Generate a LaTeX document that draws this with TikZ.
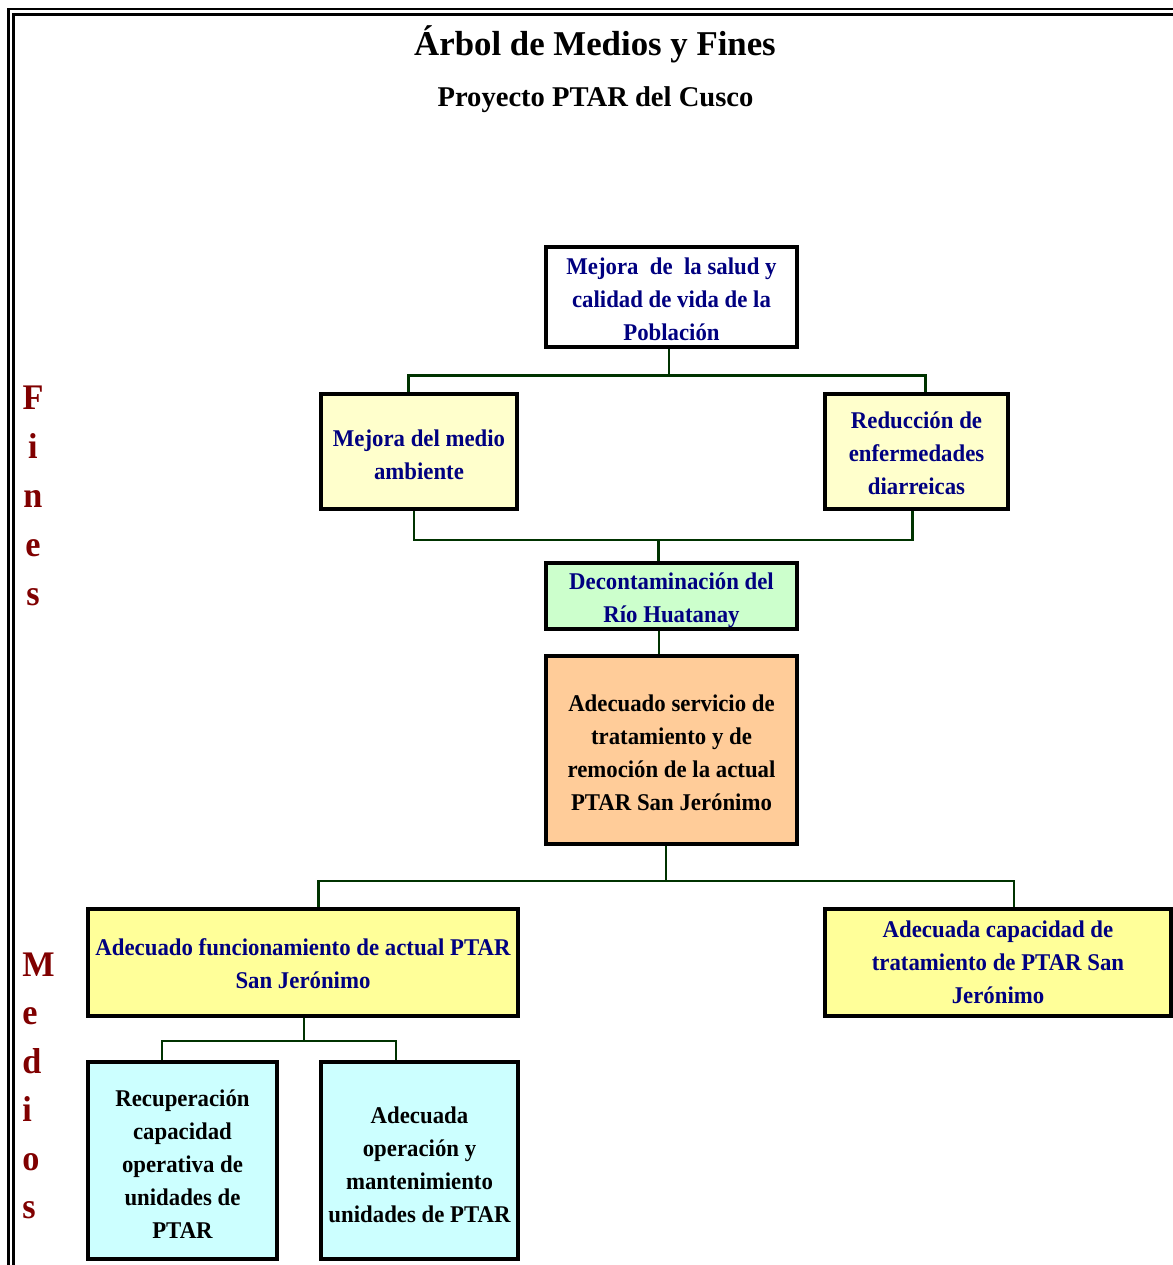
\documentclass[tikz,border=0pt]{standalone}
\usepackage{fontspec}
\setmainfont{Liberation Serif}[FakeStretch=0.95]
\newfontfamily\plainfont{Liberation Serif}
\usetikzlibrary{calc}

\definecolor{navytext}{HTML}{000080}
\definecolor{wine}{HTML}{800000}
\definecolor{linkgreen}{HTML}{003300}
\definecolor{paleyellow}{HTML}{FFFFCC}
\definecolor{softyellow}{HTML}{FFFF99}
\definecolor{palegreen}{HTML}{CCFFCC}
\definecolor{tan}{HTML}{FFCC99}
\definecolor{palecyan}{HTML}{CCFFFF}

% invisible strut on a first line, to set the text's vertical place in its box
\newcommand\firstrule[1]{\rule{0pt}{#1}}

\tikzset{
  box/.style={draw=black, line width=2pt, inner sep=0pt, align=center,
    font=\fontsize{12}{16.5}\selectfont\bfseries, text=navytext},
  darkbox/.style={box, text=black},
  link/.style={draw=linkgreen, line width=1.4pt},
  frameline/.style={draw=black, line width=1.3pt},
  sideletter/.style={inner sep=0pt, text=wine,
    font=\fontsize{18}{20}\selectfont\bfseries}
}

\begin{document}
\begin{tikzpicture}[x=0.5pt, y=-0.5pt]
\useasboundingbox (0,0) rectangle (1173,1265);

% double page frame
\draw[frameline] (8.7,1265) -- (8.7,9) -- (1173,9);
\draw[frameline] (13.3,1265) -- (13.3,14.7) -- (1173,14.7);

% headings
\node[anchor=base, inner sep=0pt, font=\plainfont\fontsize{17.4}{20}\selectfont\bfseries]
  (title) at (595,55) {Árbol de Medios y Fines};
\node[anchor=base, inner sep=0pt, font=\plainfont\fontsize{14.3}{17}\selectfont\bfseries]
  (subtitle) at (595.5,106) {Proyecto PTAR del Cusco};

% side labels
\foreach \l [count=\k] in {F,i,n,e,s}
  \node[sideletter, anchor=base] (fines-\k) at (33,{409+49*(\k-1)}) {\l};
\foreach \l [count=\k] in {M,e,d,i,o,s}
  \node[sideletter, anchor=base west] (medios-\k) at (22,{976+48.5*(\k-1)}) {\l};

% ends (fines)
\node[box, fill=white, minimum width=125.5pt, minimum height=50pt]
  (salud) at (671.5,297) {\firstrule{10.2pt}Mejora~ de~ la salud y\\calidad de vida de la\\Población};
\node[box, fill=paleyellow, minimum width=98pt, minimum height=57.5pt]
  (medio) at (419,451.5) {\firstrule{11.2pt}Mejora del medio\\ambiente};
\node[box, fill=paleyellow, minimum width=91.5pt, minimum height=57.5pt]
  (reduc) at (916.5,451.5) {\firstrule{10.2pt}Reducción de\\enfermedades\\diarreicas};
\node[box, fill=palegreen, minimum width=125.5pt, minimum height=33pt]
  (decont) at (671.5,596) {\firstrule{12.2pt}Decontaminación del\\Río Huatanay};

% central objective
\node[darkbox, fill=tan, minimum width=125.5pt, minimum height=94pt]
  (central) at (671.5,750) {\firstrule{11.2pt}Adecuado servicio de\\tratamiento y de\\remoción de la actual\\PTAR San Jerónimo};

% means (medios)
\node[box, fill=softyellow, minimum width=215pt, minimum height=53.5pt]
  (funcion) at (303,962.5) {\firstrule{9.2pt}Adecuado funcionamiento de actual PTAR\\San Jerónimo};
\node[box, fill=softyellow, minimum width=173pt, minimum height=53.5pt]
  (capac) at (998,962.5) {Adecuada capacidad de\\tratamiento de PTAR San\\Jerónimo};
\node[darkbox, fill=palecyan, minimum width=94.5pt, minimum height=98.5pt]
  (recup) at (182.5,1160.5) {\firstrule{12.2pt}Recuperación\\capacidad\\operativa de\\unidades de\\PTAR};
\node[darkbox, fill=palecyan, minimum width=98.5pt, minimum height=98.5pt]
  (operac) at (419.5,1160.5) {\firstrule{12.2pt}Adecuada\\operación y\\mantenimiento\\unidades de PTAR};

% connectors
\coordinate (busA) at (669,375.5);
\draw[link] (salud.south -| busA) -- (busA);
\draw[link] ($(medio.north)+(-10.5,0)$) |- (busA) -| ($(reduc.north)+(9,0)$);

\coordinate (busB) at (658.5,540);
\draw[link] ($(medio.south)+(-5,0)$) |- (busB) -| ($(reduc.south)+(-4,0)$);
\draw[link] (busB) -- (busB |- decont.north);

\draw[link] ($(decont.south)+(-12.5,0)$) -- ($(central.north)+(-12.5,0)$);

\coordinate (busC) at (666,881);
\draw[link] (central.south -| busC) -- (busC);
\draw[link] ($(funcion.north)+(15.5,0)$) |- (busC) -| ($(capac.north)+(16,0)$);

\coordinate (busD) at (304,1041);
\draw[link] (funcion.south -| busD) -- (busD);
\draw[link] ($(recup.north)+(-20.5,0)$) |- (busD) -| ($(operac.north)+(-23.5,0)$);
\end{tikzpicture}
\end{document}
